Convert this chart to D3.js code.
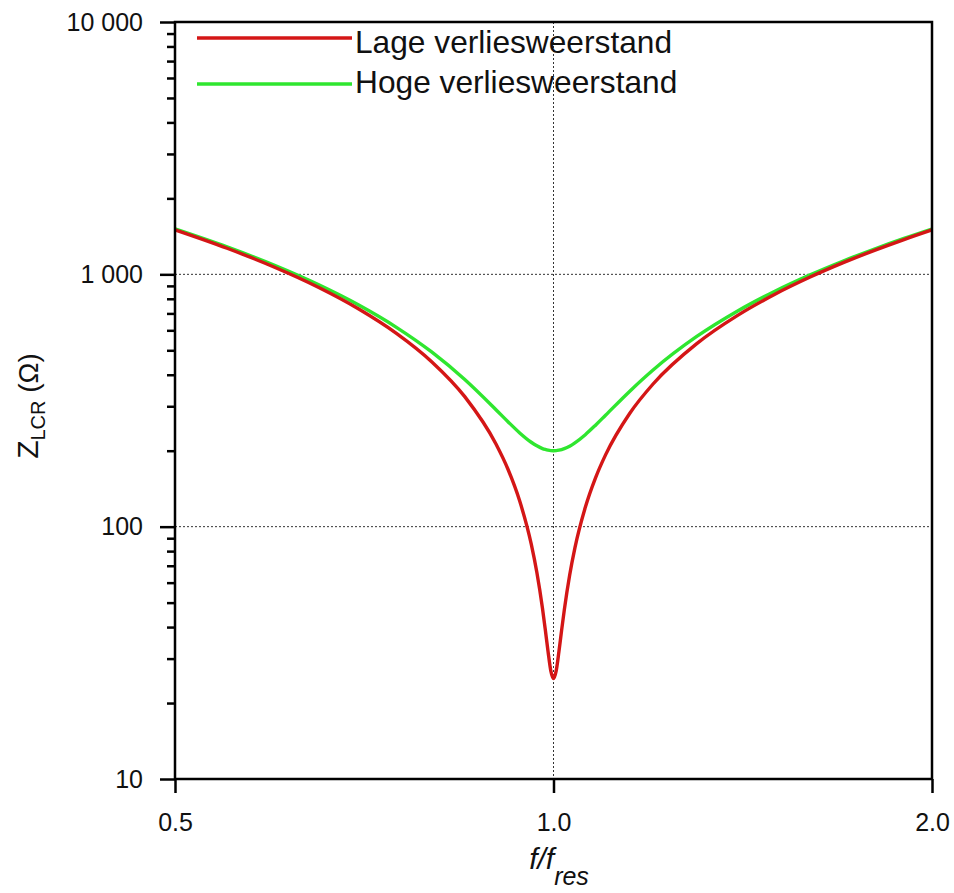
<!DOCTYPE html>
<html>
<head>
<meta charset="utf-8">
<script src="https://cdn.jsdelivr.net/npm/d3@7"></script>
<style>
  html, body { margin: 0; padding: 0; background: #fff; }
  svg { display: block; font-family: "Liberation Sans", Arial, sans-serif; }
</style>
</head>
<body>
<svg id="chart" width="954" height="893"></svg>
<script>
// ---- data ----
const freqRatio = [0.5, 0.55, 0.6, 0.65, 0.7, 0.75, 0.8, 0.85, 0.9, 0.92, 0.94, 0.96, 0.97, 0.98, 0.985, 0.99, 0.995, 1.0,
                   1.005, 1.01, 1.015, 1.02, 1.03, 1.04, 1.06, 1.08, 1.1, 1.15, 1.2, 1.3, 1.4, 1.5, 1.6, 1.7, 1.8, 1.9, 2.0];
const zLow  = [1500.2, 1268.4, 1067.0, 888.9, 729.0, 583.8, 450.7, 327.5, 212.6, 168.9, 126.3, 85.4, 65.8, 47.5, 39.2, 32.1, 26.9, 25.0,
               26.9, 32.0, 38.9, 46.8, 64.2, 82.4, 119.3, 156.1, 192.5, 281.5, 367.6, 531.4, 686.2, 833.7, 975.3, 1112.1, 1244.7, 1373.9, 1500.2];
const zHigh = [1513.3, 1283.9, 1085.3, 910.7, 755.6, 616.6, 492.4, 382.9, 290.8, 260.6, 235.2, 216.0, 209.1, 204.0, 202.3, 201.0, 200.2, 200.0,
               200.2, 201.0, 202.2, 203.9, 208.5, 214.9, 231.5, 252.5, 276.5, 344.4, 417.7, 567.2, 714.3, 857.0, 995.3, 1129.7, 1260.4, 1388.2, 1513.3];
const seriesNames = ["Lage verliesweerstand", "Hoge verliesweerstand"];
const seriesColors = ["#d41616", "#2fe62f"];
const xTicks = [0.5, 1.0, 2.0];
const yTicks = [10, 100, 1000, 10000];
const yTickLabels = ["10", "100", "1 000", "10 000"];
const gridX = [1.0];
const gridY = [100, 1000];

// ---- layout ----
const svg = d3.select("#chart");
const L = 175, R = 932, T = 22, B = 779;

const x = d3.scaleLog().domain([0.5, 2.0]).range([L, R]);
const y = d3.scaleLog().domain([10, 10000]).range([B, T]);

// minor y ticks
const minorY = [];
for (let d = 10; d < 10000; d *= 10) for (let k = 2; k <= 9; k++) minorY.push(d * k);

// grid lines
const grid = svg.append("g").attr("stroke", "#333").attr("stroke-width", 1).attr("stroke-dasharray", "2,2");
grid.selectAll("line.gy").data(gridY).join("line")
  .attr("x1", L).attr("x2", R).attr("y1", d => y(d)).attr("y2", d => y(d));
grid.selectAll("line.gx").data(gridX).join("line")
  .attr("x1", d => x(d)).attr("x2", d => x(d)).attr("y1", T).attr("y2", B);

// curves
const line = d3.line().x(d => x(d[0])).y(d => y(d[1])).curve(d3.curveMonotoneX);
const dataLow = freqRatio.map((f, i) => [f, zLow[i]]);
const dataHigh = freqRatio.map((f, i) => [f, zHigh[i]]);
svg.append("path").datum(dataHigh).attr("d", line).attr("fill", "none")
  .attr("stroke", seriesColors[1]).attr("stroke-width", 3.4).attr("stroke-linejoin", "round");
svg.append("path").datum(dataLow).attr("d", line).attr("fill", "none")
  .attr("stroke", seriesColors[0]).attr("stroke-width", 3.4).attr("stroke-linejoin", "round");

// frame
svg.append("rect").attr("x", L).attr("y", T).attr("width", R - L).attr("height", B - T)
  .attr("fill", "none").attr("stroke", "#000").attr("stroke-width", 2.5);

// y axis major
const yAxis = svg.append("g").attr("transform", `translate(${L},0)`)
  .call(d3.axisLeft(y).tickValues(yTicks).tickSize(15).tickSizeOuter(0).tickPadding(17)
    .tickFormat((d, i) => yTickLabels[i]));
yAxis.select(".domain").remove();
yAxis.selectAll("line").attr("stroke-width", 2.5);
yAxis.selectAll("text").attr("font-size", 25).attr("fill", "#111")
  .attr("font-family", '"Liberation Sans", Arial, sans-serif');

// y axis minor
const yMinor = svg.append("g").attr("transform", `translate(${L},0)`)
  .call(d3.axisLeft(y).tickValues(minorY).tickSize(8).tickSizeOuter(0).tickFormat(""));
yMinor.select(".domain").remove();
yMinor.selectAll("line").attr("stroke-width", 2.5);

// x axis
const xAxis = svg.append("g").attr("transform", `translate(0,${B})`)
  .call(d3.axisBottom(x).tickValues(xTicks).tickSize(14).tickSizeOuter(0).tickPadding(20)
    .tickFormat(d3.format(".1f")));
xAxis.select(".domain").remove();
xAxis.selectAll("line").attr("stroke-width", 2.5);
xAxis.selectAll("text").attr("font-size", 25).attr("fill", "#111")
  .attr("font-family", '"Liberation Sans", Arial, sans-serif');

// x label
const xl = svg.append("text").attr("x", 559).attr("y", 869).attr("text-anchor", "middle")
  .attr("font-style", "italic").attr("fill", "#111");
xl.append("tspan").attr("font-size", 30).text("f/f");
xl.append("tspan").attr("font-size", 25).attr("dy", 16).text("res");

// y label
const yl = svg.append("text").attr("transform", "translate(38,406) rotate(-90)")
  .attr("text-anchor", "middle").attr("fill", "#111");
yl.append("tspan").attr("font-size", 30).text("Z");
yl.append("tspan").attr("font-size", 20).attr("dy", 7).text("LCR");
yl.append("tspan").attr("font-size", 28).attr("dy", -7).text(" (Ω)");

// legend
const legY = [38, 84];
const legTextY = [53, 93];
const leg = svg.append("g");
seriesNames.forEach((name, i) => {
  leg.append("line").attr("x1", 197).attr("x2", 352).attr("y1", legY[i]).attr("y2", legY[i])
    .attr("stroke", seriesColors[i]).attr("stroke-width", 3.4);
  leg.append("text").attr("x", 355).attr("y", legTextY[i])
    .attr("font-size", 31.7).attr("fill", "#111").text(name);
});
</script>
</body>
</html>
